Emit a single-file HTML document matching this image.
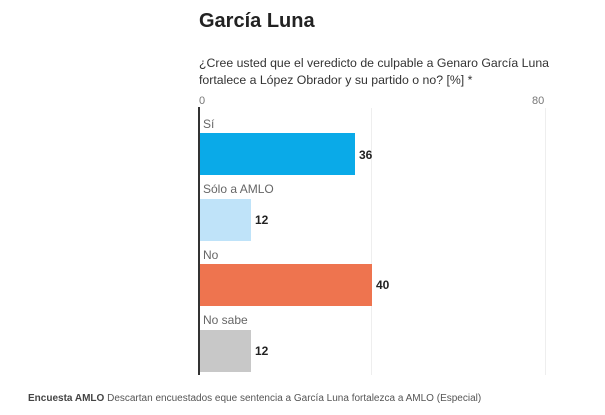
<!DOCTYPE html>
<html><head><style>
body{margin:0;width:605px;height:415px;background:#fff;font-family:"Liberation Sans",sans-serif;position:relative;overflow:hidden}
div{position:absolute}
.lbl{font-size:12px;color:#666;left:203px}
.val{font-size:12px;font-weight:bold;color:#222}
.bar{left:200px;height:42px}
</style></head><body>
<div style="left:199px;top:10px;font-size:20px;font-weight:bold;color:#222">García Luna</div>
<div style="left:199px;top:55px;font-size:12.3px;line-height:17px;color:#333;width:360px">¿Cree usted que el veredicto de culpable a Genaro García Luna fortalece a López Obrador y su partido o no? [%] *</div>
<div style="left:199px;top:95px;font-size:11px;color:#777">0</div>
<div style="left:532px;top:95px;font-size:11px;color:#777">80</div>
<div style="left:371px;top:108px;width:1px;height:267px;background:#eee"></div>
<div style="left:545px;top:108px;width:1px;height:267px;background:#eee"></div>
<div style="left:198px;top:107px;width:2px;height:268px;background:#333"></div>
<div class="lbl" style="top:117px">Sí</div>
<div class="bar" style="top:133px;width:155px;background:#0aaae8"></div>
<div class="val" style="left:359px;top:148px">36</div>
<div class="lbl" style="top:182px">Sólo a AMLO</div>
<div class="bar" style="top:199px;width:51px;background:#bfe3f9"></div>
<div class="val" style="left:255px;top:213px">12</div>
<div class="lbl" style="top:248px">No</div>
<div class="bar" style="top:264px;width:172px;background:#ee744f"></div>
<div class="val" style="left:376px;top:278px">40</div>
<div class="lbl" style="top:313px">No sabe</div>
<div class="bar" style="top:330px;width:51px;background:#c8c8c8"></div>
<div class="val" style="left:255px;top:344px">12</div>
<div style="left:28px;top:393px;font-size:10px;color:#555"><b style="color:#444">Encuesta AMLO</b> Descartan encuestados eque sentencia a García Luna fortalezca a AMLO (Especial)</div>
</body></html>
